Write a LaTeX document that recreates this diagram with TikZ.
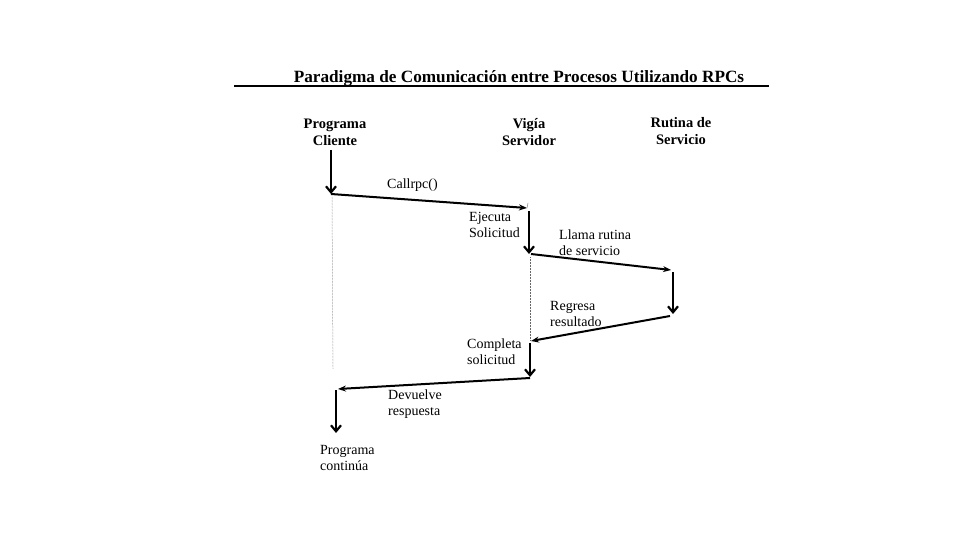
\documentclass[tikz,border=0pt]{standalone}
\usepackage{fontspec}
\setmainfont{Liberation Serif}
\usetikzlibrary{arrows.meta}
\newcommand{\hstrut}{\rule{0pt}{14pt}}
\tikzset{
  msg/.style={line width=2pt,-{Stealth[length=8pt,width=6pt]}},
  act/.style={line width=2.2pt,-{Straight Barb[length=6pt,width=10pt]}},
  life/.style={line width=0.5pt,densely dotted,gray!80!black},
  lbl/.style={font=\fontsize{14}{16}\selectfont,align=left,anchor=north west,inner sep=0pt},
  hdr/.style={font=\bfseries\fontsize{14.5}{17}\selectfont,align=center,anchor=north,inner sep=0pt},
}
\begin{document}
\begin{tikzpicture}[x=1pt,y=-1pt]
\useasboundingbox (0,0) rectangle (960,540);
\fill[white] (0,0) rectangle (960,540);
\begin{scope}
\clip (220,50) rectangle (790,471);
% title
\node[font=\bfseries\fontsize{17.2}{20}\selectfont,inner sep=0pt,anchor=base] (title) at (519,83) {Paradigma de Comunicación entre Procesos Utilizando RPCs};
\coordinate (ul0) at (234,86);
\coordinate (ul1) at (769,86);
\draw[line width=1.3pt] (ul0) -- (ul1);
% headers
\node[hdr] (hc) at (335,114) {\hstrut Programa\\Cliente};
\node[hdr] (hs) at (529,114) {\hstrut Vigía\\Servidor};
\node[hdr] (hr) at (681,113) {\hstrut Rutina de\\Servicio};
% coordinates
\coordinate (c0) at (331,150);
\coordinate (c1) at (331,194);
\coordinate (s0) at (527,208);
\coordinate (s1) at (529,211);
\coordinate (s2) at (529,254);
\coordinate (s3) at (531,254);
\coordinate (r0) at (671,270);
\coordinate (r1) at (673,272);
\coordinate (r2) at (673,314);
\coordinate (r3) at (670,316);
\coordinate (s4) at (531,341);
\coordinate (s5) at (530,343);
\coordinate (s6) at (530,377);
\coordinate (s7) at (530,378);
\coordinate (c2) at (338,389);
\coordinate (c3) at (336,390);
\coordinate (c4) at (336,433);
\coordinate (d0) at (332,197);
\coordinate (d1) at (333,369);
\coordinate (d2) at (530,257);
\coordinate (d3) at (530,340);
\coordinate (d4) at (528,203);
% lifelines
\draw[life] (d0) -- (d1);
\draw[life] (d2) -- (d3);
\draw[line width=0.5pt,gray] (d4) -- (s0);
% arrows
\draw[act] (c0) -- (c1);
\draw[msg] (c1) -- (s0);
\draw[act] (s1) -- (s2);
\draw[msg] (s3) -- (r0);
\draw[act] (r1) -- (r2);
\draw[msg] (r3) -- (s4);
\draw[act] (s5) -- (s6);
\draw[msg] (s7) -- (c2);
\draw[act] (c3) -- (c4);
% labels
\node[lbl] (l1) at (387,179) {Callrpc()};
\node[lbl] (l2) at (469,212) {Ejecuta\\Solicitud};
\node[lbl] (l3) at (559,230) {Llama rutina\\de servicio};
\node[lbl] (l4) at (550,301) {Regresa\\resultado};
\node[lbl] (l5) at (467,339) {Completa\\solicitud};
\node[lbl] (l6) at (388,390) {Devuelve\\respuesta};
\node[lbl] (l7) at (320,445) {Programa\\continúa};
\end{scope}
\end{tikzpicture}
\end{document}
